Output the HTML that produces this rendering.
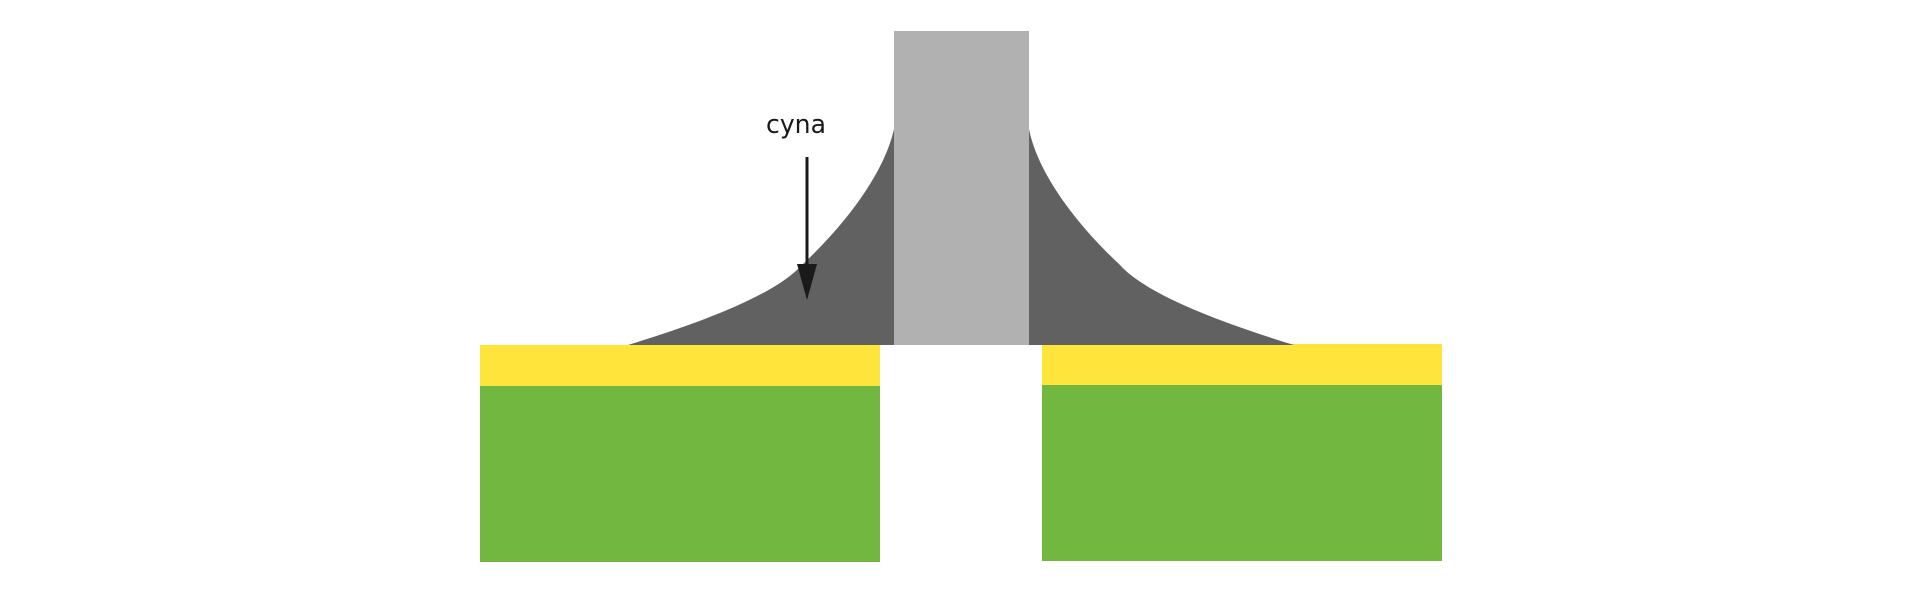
<!DOCTYPE html>
<html><head><meta charset="utf-8"><style>html,body{margin:0;padding:0;background:#fff}svg{display:block}</style></head>
<body>
<svg width="1920" height="603" viewBox="0 0 1920 603" xmlns="http://www.w3.org/2000/svg">
<rect x="480" y="345" width="400" height="42" fill="#ffe53b"/>
<rect x="480" y="386" width="400" height="176" fill="#72b73f"/>
<rect x="1042" y="344" width="400" height="42" fill="#ffe53b"/>
<rect x="1042" y="385" width="400" height="176" fill="#72b73f"/>
<path d="M628 345 C700 323 775 295 802 265 C850 220 885 170 894 129 L894 345 Z" fill="#616161"/>
<path d="M1294 345 C1222 323 1147 295 1120 265 C1072 220 1037 170 1029 129 L1029 345 Z" fill="#616161"/>
<rect x="894" y="31" width="135" height="314" fill="#b1b1b1"/>
<line x1="807" y1="157" x2="807" y2="268" stroke="#1a1a1a" stroke-width="3"/>
<path d="M797 264 L817 264 L807 300 Z" fill="#1a1a1a"/>
<text x="766" y="133" font-family="DejaVu Sans, sans-serif" font-size="26" fill="#1a1a1a" textLength="60" lengthAdjust="spacingAndGlyphs">cyna</text>
</svg>
</body></html>
